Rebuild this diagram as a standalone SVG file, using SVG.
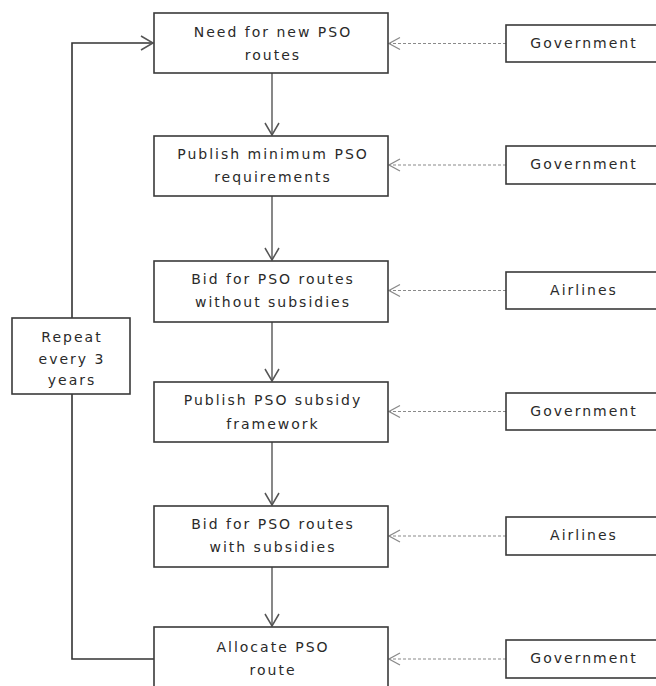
<svg xmlns="http://www.w3.org/2000/svg" width="656" height="686" viewBox="0 0 656 686">
<defs>
<style>
.box{fill:#fff;stroke:#3a3a3a;stroke-width:1.6}
.t{font-family:"DejaVu Sans",Verdana,sans-serif;font-size:14px;fill:#2a2a2a;text-anchor:middle;letter-spacing:2px}
.flow{fill:none;stroke:#555;stroke-width:1.4}
.loop{fill:none;stroke:#333;stroke-width:1.6}
.dash{fill:none;stroke:#8a8a8a;stroke-width:1.2;stroke-dasharray:3 2}
</style>
<marker id="ah" markerUnits="userSpaceOnUse" markerWidth="16" markerHeight="18" refX="13" refY="8" orient="auto" overflow="visible">
<path d="M1,1 L13,8 L1,15" fill="none" stroke="#555" stroke-width="1.5"/>
</marker>
<marker id="ahg" markerUnits="userSpaceOnUse" markerWidth="16" markerHeight="16" refX="12" refY="7" orient="auto" overflow="visible">
<path d="M1,1 L12,7 L1,13" fill="none" stroke="#8a8a8a" stroke-width="1.3"/>
</marker>
</defs>
<rect width="656" height="686" fill="#fff"/>
<g id="connectors">
<line class="flow" x1="272" y1="73" x2="272" y2="135" marker-end="url(#ah)"/>
<line class="flow" x1="272" y1="196" x2="272" y2="260" marker-end="url(#ah)"/>
<line class="flow" x1="272" y1="322" x2="272" y2="381" marker-end="url(#ah)"/>
<line class="flow" x1="272" y1="442" x2="272" y2="505" marker-end="url(#ah)"/>
<line class="flow" x1="272" y1="567" x2="272" y2="626" marker-end="url(#ah)"/>
<polyline class="loop" points="154,659 72,659 72,43 153,43" marker-end="url(#ah)"/>
<line class="dash" x1="506" y1="43.5" x2="389" y2="43.5" marker-end="url(#ahg)"/>
<line class="dash" x1="506" y1="165" x2="389" y2="165" marker-end="url(#ahg)"/>
<line class="dash" x1="506" y1="290.5" x2="389" y2="290.5" marker-end="url(#ahg)"/>
<line class="dash" x1="506" y1="411.5" x2="389" y2="411.5" marker-end="url(#ahg)"/>
<line class="dash" x1="506" y1="536" x2="389" y2="536" marker-end="url(#ahg)"/>
<line class="dash" x1="506" y1="659" x2="389" y2="659" marker-end="url(#ahg)"/>
</g>
<g id="n1"><rect class="box" x="154" y="13" width="234" height="60"/><text class="t" x="273" y="37">Need for new PSO</text><text class="t" x="273" y="60">routes</text></g>
<g id="n2"><rect class="box" x="154" y="136" width="234" height="60"/><text class="t" x="273" y="159">Publish minimum PSO</text><text class="t" x="273" y="182">requirements</text></g>
<g id="n3"><rect class="box" x="154" y="261" width="234" height="61"/><text class="t" x="273" y="284">Bid for PSO routes</text><text class="t" x="273" y="307">without subsidies</text></g>
<g id="n4"><rect class="box" x="154" y="382" width="234" height="60"/><text class="t" x="273" y="405">Publish PSO subsidy</text><text class="t" x="273" y="429">framework</text></g>
<g id="n5"><rect class="box" x="154" y="506" width="234" height="61"/><text class="t" x="273" y="529">Bid for PSO routes</text><text class="t" x="273" y="552">with subsidies</text></g>
<g id="n6"><rect class="box" x="154" y="627" width="234" height="62"/><text class="t" x="273" y="652">Allocate PSO</text><text class="t" x="273" y="675">route</text></g>
<g id="repeat"><rect class="box" x="12" y="318" width="118" height="76"/><text class="t" x="72" y="342">Repeat</text><text class="t" x="72" y="364">every 3</text><text class="t" x="72" y="385">years</text></g>
<g id="g1"><rect class="box" x="506" y="25" width="156" height="37"/><text class="t" x="584" y="48">Government</text></g>
<g id="g2"><rect class="box" x="506" y="146" width="156" height="38"/><text class="t" x="584" y="169">Government</text></g>
<g id="a3"><rect class="box" x="506" y="272" width="156" height="37"/><text class="t" x="584" y="295">Airlines</text></g>
<g id="g4"><rect class="box" x="506" y="393" width="156" height="37"/><text class="t" x="584" y="416">Government</text></g>
<g id="a5"><rect class="box" x="506" y="517" width="156" height="38"/><text class="t" x="584" y="540">Airlines</text></g>
<g id="g6"><rect class="box" x="506" y="640" width="156" height="38"/><text class="t" x="584" y="663">Government</text></g>
</svg>
